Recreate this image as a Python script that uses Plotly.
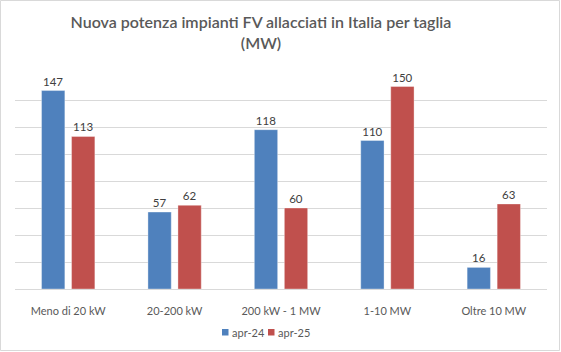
import plotly.graph_objects as go

categories = ["Meno di 20 kW", "20-200 kW", "200 kW - 1 MW", "1-10 MW", "Oltre 10 MW"]
apr24 = [147, 57, 118, 110, 16]
apr25 = [113, 62, 60, 150, 63]
series_names = ["apr-24", "apr-25"]
series_colors = ["#4F81BD", "#C0504D"]
title_text = "Nuova potenza impianti FV allacciati in Italia per taglia<br>(MW)"

W, H = 561, 352
ml, mr, mt, mb = 15, 14, 73, 63
pw, ph = W - ml - mr, H - mt - mb
FONT = "Lato, Open Sans, sans-serif"


def px(x):
    return (x - ml) / pw


def py(y):
    return (H - mb - y) / ph


fig = go.Figure()
for name, vals, col in zip(series_names, [apr24, apr25], series_colors):
    fig.add_trace(go.Bar(
        x=categories, y=vals, name=name,
        marker=dict(color=col, line=dict(color="rgba(255,255,255,0.35)", width=1)),
        text=vals, texttemplate="%{y}", textposition="outside",
        textfont=dict(family=FONT, size=11.5, color="#404040"),
        cliponaxis=False,
    ))

# legend drawn as small squares + labels (Excel style)
shapes = [dict(type="rect", xref="paper", yref="paper",
               x0=(-ml + 0.5) / pw, x1=(pw + mr - 1.5) / pw,
               y0=(-mb + 1.5) / ph, y1=(ph + mt - 0.5) / ph,
               line=dict(color="#D9D9D9", width=1), fillcolor="rgba(0,0,0,0)", layer="below")]
annotations = []
leg_x = [222, 268]
for lx, name, col in zip(leg_x, series_names, series_colors):
    shapes.append(dict(type="rect", xref="paper", yref="paper",
                       x0=px(lx), x1=px(lx + 6.5), y0=py(335.5), y1=py(329),
                       line=dict(width=0), fillcolor=col))
    annotations.append(dict(text=name, xref="paper", yref="paper", x=px(lx + 8), y=py(332.5),
                            xanchor="left", yanchor="middle", showarrow=False,
                            font=dict(family=FONT, size=11, color="#595959")))

fig.update_layout(
    width=W, height=H,
    margin=dict(l=ml, r=mr, t=mt, b=mb),
    paper_bgcolor="white", plot_bgcolor="white",
    barmode="group", bargap=0.436, bargroupgap=0.223,
    title=dict(text=title_text, x=261 / W, xanchor="center", xref="container",
               y=1 - 28 / H, yanchor="middle", yref="container",
               font=dict(family=FONT, size=16, color="#595959", weight=600)),
    font=dict(family=FONT, size=11, color="#595959"),
    showlegend=False,
    xaxis=dict(showgrid=False, showline=False, ticks="", ticklabelstandoff=14,
               tickfont=dict(size=11, color="#595959")),
    yaxis=dict(range=[0, 160], dtick=20, showticklabels=False, showgrid=True, gridcolor="#D9D9D9",
               gridwidth=1, zeroline=True, zerolinecolor="#D9D9D9", zerolinewidth=1, showline=False),
    shapes=shapes,
    annotations=annotations,
)

fig.write_html("out.html")
